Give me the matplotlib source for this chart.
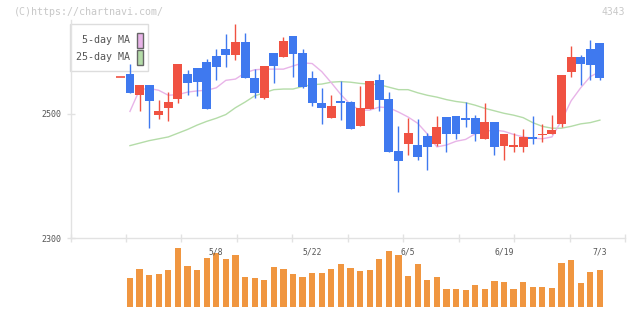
import matplotlib
matplotlib.use("Agg")
import matplotlib.pyplot as plt
import matplotlib.patches as mpatches
import numpy as np

# daily candles, oldest first (last one is 7/3)
opens = [2564, 2531, 2547, 2498, 2510, 2524, 2564, 2574, 2584, 2593,
         2605, 2595, 2615, 2558, 2526, 2598, 2591, 2625, 2598, 2558,
         2518, 2494, 2521, 2519, 2480, 2508, 2555, 2524, 2440, 2451,
         2450, 2465, 2451, 2495, 2497, 2494, 2494, 2459, 2487, 2449,
         2446, 2447, 2463, 2466, 2467, 2484, 2568, 2592, 2605, 2614]
highs = [2581, 2547, 2547, 2522, 2535, 2581, 2570, 2574, 2588, 2605,
         2629, 2645, 2630, 2572, 2577, 2598, 2623, 2625, 2605, 2569,
         2542, 2531, 2553, 2521, 2545, 2553, 2564, 2535, 2481, 2494,
         2492, 2469, 2497, 2495, 2497, 2519, 2498, 2518, 2487, 2468,
         2470, 2476, 2497, 2484, 2498, 2563, 2609, 2595, 2619, 2614]
lows = [2534, 2505, 2478, 2492, 2489, 2518, 2531, 2529, 2508, 2555,
        2576, 2587, 2558, 2526, 2524, 2550, 2591, 2560, 2542, 2513,
        2483, 2494, 2491, 2475, 2480, 2508, 2504, 2439, 2375, 2434,
        2426, 2410, 2449, 2439, 2460, 2479, 2457, 2459, 2434, 2426,
        2439, 2439, 2451, 2455, 2467, 2479, 2560, 2547, 2554, 2555]
closes = [2534, 2547, 2521, 2505, 2519, 2581, 2550, 2551, 2508, 2576,
          2595, 2615, 2558, 2533, 2577, 2577, 2617, 2597, 2543, 2517,
          2509, 2513, 2518, 2476, 2510, 2553, 2523, 2439, 2425, 2469,
          2431, 2447, 2479, 2467, 2467, 2490, 2468, 2487, 2446, 2468,
          2450, 2463, 2460, 2468, 2474, 2563, 2592, 2581, 2579, 2558]
volume = [28700, 37700, 31700, 32700, 36700, 58700, 40700, 36700, 48700, 53300,
          47700, 51700, 29700, 28700, 26700, 39700, 37700, 32700, 29700, 33700,
          33700, 37700, 42700, 38700, 35700, 36700, 47700, 55700, 51700, 30700,
          42700, 26700, 29700, 17700, 17700, 16700, 21700, 17700, 25700, 24700,
          17700, 24700, 19700, 19700, 18700, 43700, 46700, 23700, 34700, 36700]
ma5 = [2504, 2539, 2541, 2538, 2530, 2531, 2535, 2537, 2538, 2542,
       2554, 2556, 2566, 2571, 2572, 2572, 2572, 2577, 2582, 2581,
       2568, 2550, 2531, 2515, 2506, 2506, 2511, 2510, 2503, 2495,
       2485, 2468, 2447, 2450, 2456, 2459, 2468, 2472, 2474, 2472,
       2467, 2463, 2461, 2460, 2463, 2489, 2521, 2542, 2560, 2568]
ma25 = [2449, 2453, 2457, 2460, 2463, 2469, 2475, 2482, 2488, 2493,
        2499, 2510, 2519, 2529, 2534, 2539, 2540, 2540, 2544, 2547,
        2548, 2551, 2552, 2551, 2549, 2548, 2547, 2543, 2539, 2539,
        2534, 2530, 2527, 2523, 2520, 2518, 2514, 2509, 2505, 2501,
        2498, 2494, 2486, 2480, 2477, 2477, 2480, 2484, 2486, 2490]
prev_close = 2560
date_labels = ['5/8', '5/22', '6/5', '6/19', '7/3']
date_idx = [9, 19, 29, 39, 49]
price_ticks = [2300, 2500]

UP = '#f05242'
DOWN = '#3f79ef'
VOL = '#f09640'
PINK = '#e8b4e8'
GREEN = '#b4dca8'
GRID = '#e2e2e2'
TXT = '#555555'
MONO = 'DejaVu Sans Mono'

W, H = 640, 311
fig = plt.figure(figsize=(W / 100, H / 100), dpi=100)


def box(l, t, r, b):
    return [l / W, 1 - b / H, (r - l) / W, (b - t) / H]


xlim = (-6.2, 51.65)
ax = fig.add_axes(box(70.5, 20, 625.3, 238.3))
axv = fig.add_axes(box(70.5, 240, 625.3, 306.7))

x = np.arange(len(closes))
o = np.array(opens)
c = np.array(closes)
colors = [UP if cc >= oo else DOWN for oo, cc in zip(o, c)]

# moving averages behind the candles
ax.plot(x, ma25, color=GREEN, lw=1, zorder=1)
ax.plot(x, ma5, color=PINK, lw=1, zorder=1)

ax.vlines(x, lows, highs, colors=colors, lw=1, zorder=2)
bottom = np.minimum(o, c)
height = np.maximum(np.abs(c - o), 1.7)
ax.bar(x, height, bottom=bottom, width=0.93, color=colors, zorder=3)
ax.hlines(prev_close, -1.46, -0.54, colors=UP, lw=1.2, zorder=3)

ax.set_xlim(*xlim)
ax.set_ylim(2300, 2651)
for s in ['top', 'right']:
    ax.spines[s].set_visible(False)
for s in ['left', 'bottom']:
    ax.spines[s].set_color(GRID)
    ax.spines[s].set_linewidth(1)
ax.set_xticks(np.linspace(xlim[0], xlim[1], 11))
ax.set_xticklabels([])
ax.set_yticks(price_ticks)
ax.set_yticklabels([str(t) for t in price_ticks], fontsize=6, color=TXT, family=MONO)
ax.tick_params(axis='both', direction='inout', length=6, width=1, color=GRID)
ax.tick_params(axis='y', pad=3.5)

# volume panel
axv.bar(x, volume, width=0.65, color=VOL, zorder=1)
axv.set_xlim(*xlim)
axv.set_ylim(0, 66700)
axv.axis('off')
for i, lab in zip(date_idx, date_labels):
    axv.text(i, 0.82, lab, transform=axv.get_xaxis_transform(), ha='center', va='center',
             fontsize=5.8, color=TXT, family=MONO, zorder=3)

# legend box (sits under the candles)
ax.add_patch(mpatches.Rectangle((70 / W, 1 - 71 / H), 78 / W, 47 / H, transform=fig.transFigure,
                                facecolor='white', edgecolor='#dddddd', lw=1, clip_on=False, zorder=0.5))
for lab, col, ty in [('5-day MA', PINK, 40.3), ('25-day MA', GREEN, 57.3)]:
    ax.text(129.5 / W, 1 - ty / H, lab, transform=fig.transFigure, ha='right', va='center',
            fontsize=7.2, color=TXT, family=MONO, zorder=0.6)
    ax.add_patch(mpatches.Rectangle((136.5 / W, 1 - (ty + 7.5) / H), 6 / W, 15 / H,
                                    transform=fig.transFigure, facecolor=col, edgecolor='#666666',
                                    lw=1, clip_on=False, zorder=0.6))

fig.text(14 / W, 1 - 12 / H, '(C)https://chartnavi.com/', ha='left', va='center',
         fontsize=7.2, color='#c8c8c8', family=MONO)
fig.text(625 / W, 1 - 12 / H, '4343', ha='right', va='center',
         fontsize=7, color='#c8c8c8', family=MONO)

fig.savefig('out.png', dpi=100)
